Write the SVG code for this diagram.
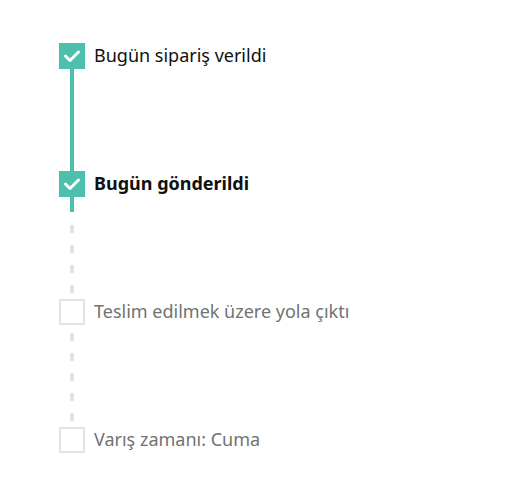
<svg xmlns="http://www.w3.org/2000/svg" width="506" height="491" viewBox="0 0 506 491">
<style>
.lbl{font-family:"Noto Sans","Open Sans",sans-serif;font-size:18px;fill:#0f1111}
.pend{fill:#6f7373}
.bold{font-weight:bold}
.done{fill:#4cc0ad}
.todo{fill:#ffffff;stroke:#e3e3e3;stroke-width:2}
.chk{fill:none;stroke:#ffffff;stroke-width:3;stroke-linecap:round;stroke-linejoin:round}
.dash{stroke:#e3e3e3;stroke-width:4;stroke-dasharray:8 12}
</style>
<rect width="506" height="491" fill="#ffffff"/>
<g id="connectors">
<line x1="72" y1="68" x2="72" y2="212" stroke="#4cc0ad" stroke-width="4"/>
<line class="dash" x1="72" y1="225" x2="72" y2="293"/>
<line class="dash" x1="72" y1="333" x2="72" y2="421"/>
</g>
<g id="step1">
<rect class="done" x="59" y="43" width="26" height="26"/>
<path class="chk" d="M65.5 56 L70 60.5 L78.5 52"/>
<text class="lbl" x="94" y="61.5">Bugün sipariş verildi</text>
</g>
<g id="step2">
<rect class="done" x="59" y="171" width="26" height="26"/>
<path class="chk" d="M65.5 184 L70 188.5 L78.5 180"/>
<text class="lbl bold" x="94" y="189.5">Bugün gönderildi</text>
</g>
<g id="step3">
<rect class="todo" x="60" y="300" width="24" height="24"/>
<text class="lbl pend" x="94" y="317.5">Teslim edilmek üzere yola çıktı</text>
</g>
<g id="step4">
<rect class="todo" x="60" y="428" width="24" height="24"/>
<text class="lbl pend" x="94" y="445.5">Varış zamanı: Cuma</text>
</g>
</svg>
